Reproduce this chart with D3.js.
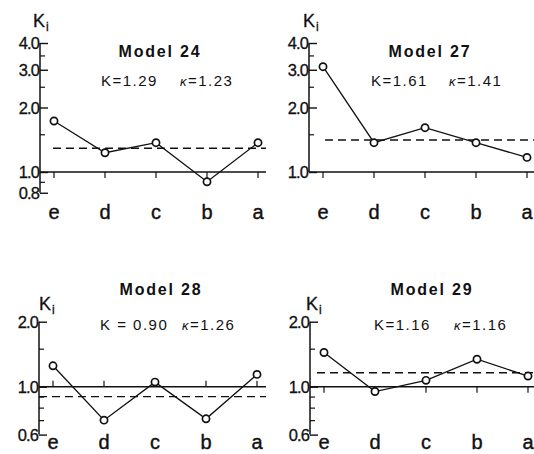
<!DOCTYPE html>
<html>
<head>
<meta charset="utf-8">
<script src="https://cdn.jsdelivr.net/npm/d3@7"></script>
<style>
  html, body { margin: 0; padding: 0; background: #fff; }
  svg { display: block; }
  text { font-family: "Liberation Sans", Arial, Helvetica, sans-serif; fill: #111; }
</style>
</head>
<body>
<svg id="chart" width="534" height="454"></svg>
<script>
// Station categories along the horizontal axis
const categories = ["e", "d", "c", "b", "a"];

// Model titles
const modelNames = ["Model 24", "Model 27", "Model 28", "Model 29"];

// K_i values per category for each model
const ki24 = [1.73, 1.23, 1.37, 0.90, 1.37];
const ki27 = [3.10, 1.37, 1.61, 1.37, 1.17];
const ki28 = [1.25, 0.70, 1.05, 0.71, 1.14];
const ki29 = [1.44, 0.95, 1.07, 1.34, 1.12];

// Summary values shown under each title
const bigK   = ["1.29", "1.61", "0.90", "1.16"];
const kappa  = ["1.23", "1.41", "1.26", "1.16"];
// Level of the dashed reference line
const dashLevel = [1.29, 1.41, 0.90, 1.16];

// Tick values / labels for each y axis
const majorTicks24 = [0.8, 1.0, 2.0, 3.0, 4.0];
const minorTicks24 = [0.9, 1.5, 2.5, 3.5];
const majorTicks27 = [1.0, 2.0, 3.0, 4.0];
const minorTicks27 = [1.5, 2.5, 3.5];
const majorTicksLow = [0.6, 1.0, 2.0];
const minorTicksLow = [0.7, 0.8, 0.9, 1.5];

const svg = d3.select("#chart");

// Panel geometry (layout only)
const panels = [
  { name: modelNames[0], values: ki24, K: bigK[0], kap: kappa[0], dash: dashLevel[0],
    major: majorTicks24, minor: minorTicks24, domain: [0.8, 4.0],
    axisX: 40, y1: 172, y4: 43, lineRight: 266, dashLeft: 53, catTickDir: 1,
    titleX: 160, titleY: 57, kX: 101, kapX: 180, kY: 86, kiX: 33, kiY: 27, labelY: 219, kSep: "=" },
  { name: modelNames[1], values: ki27, K: bigK[1], kap: kappa[1], dash: dashLevel[1],
    major: majorTicks27, minor: minorTicks27, domain: [1.0, 4.0],
    axisX: 309, y1: 172, y4: 43, lineRight: 534, dashLeft: 325, catTickDir: 1,
    titleX: 430, titleY: 57, kX: 371, kapX: 449, kY: 86, kiX: 303, kiY: 27, labelY: 219, kSep: "=" },
  { name: modelNames[2], values: ki28, K: bigK[2], kap: kappa[2], dash: dashLevel[2],
    major: majorTicksLow, minor: minorTicksLow, domain: [0.6, 2.0],
    axisX: 39, y1: 386.7, y2: 321.7, lineRight: 266, dashLeft: 39, catTickDir: -1,
    titleX: 161, titleY: 295, kX: 100, kapX: 182, kY: 330, kiX: 39, kiY: 310, labelY: 449, kSep: " = " },
  { name: modelNames[3], values: ki29, K: bigK[3], kap: kappa[3], dash: dashLevel[3],
    major: majorTicksLow, minor: minorTicksLow, domain: [0.6, 2.0],
    axisX: 310, y1: 386.7, y2: 321.7, lineRight: 534, dashLeft: 317, catTickDir: 1,
    titleX: 432, titleY: 295, kX: 374, kapX: 454, kY: 330, kiX: 306, kiY: 310, labelY: 449, kSep: "=" }
];

const stroke = "#111";

panels.forEach(p => {
  const g = svg.append("g");

  // Log scale for K_i
  let y;
  if (p.y4 !== undefined) {
    y = d3.scaleLog().domain([1, 4]).range([p.y1, p.y4]);
  } else {
    y = d3.scaleLog().domain([1, 2]).range([p.y1, p.y2]);
  }

  const x = d3.scalePoint().domain(categories)
    .range([p.axisX + 14, p.axisX + 14 + 51 * 4]);

  // Vertical axis with inward ticks
  const yAxis = d3.axisRight(y)
    .tickValues(p.major)
    .tickSize(8)
    .tickFormat(() => "");
  const ya = g.append("g").attr("transform", `translate(${p.axisX},0)`).call(yAxis);
  ya.select(".domain").remove();
  ya.selectAll("line").attr("stroke", stroke).attr("stroke-width", 1.4);

  const yMinor = d3.axisRight(y).tickValues(p.minor).tickSize(5).tickFormat(() => "");
  const ym = g.append("g").attr("transform", `translate(${p.axisX},0)`).call(yMinor);
  ym.select(".domain").remove();
  ym.selectAll("line").attr("stroke", stroke).attr("stroke-width", 1.2);

  g.append("line")
    .attr("x1", p.axisX).attr("x2", p.axisX)
    .attr("y1", y(p.domain[0])).attr("y2", y(p.domain[1]))
    .attr("stroke", stroke).attr("stroke-width", 1.5);

  // Tick labels
  g.selectAll("text.tl").data(p.major).enter().append("text")
    .attr("class", "tl")
    .attr("x", p.axisX - 1)
    .attr("y", d => y(d) + 6)
    .attr("text-anchor", "end")
    .attr("font-size", 16.5)
    .attr("letter-spacing", -0.9)
    .attr("stroke", "#111").attr("stroke-width", 0.3)
    .text(d => d.toFixed(1));

  // Reference line at K_i = 1
  g.append("line")
    .attr("x1", p.axisX).attr("x2", p.lineRight)
    .attr("y1", y(1)).attr("y2", y(1))
    .attr("stroke", stroke).attr("stroke-width", 1.4);

  // Category ticks on the reference line
  g.selectAll("line.ct").data(categories).enter().append("line")
    .attr("class", "ct")
    .attr("x1", d => x(d)).attr("x2", d => x(d))
    .attr("y1", y(1)).attr("y2", y(1) + 6 * p.catTickDir)
    .attr("stroke", stroke).attr("stroke-width", 1.2);

  // Dashed mean level
  g.append("line")
    .attr("x1", p.dashLeft).attr("x2", p.lineRight)
    .attr("y1", y(p.dash)).attr("y2", y(p.dash))
    .attr("stroke", stroke).attr("stroke-width", 1.4)
    .attr("stroke-dasharray", "8,5");

  // Data line and markers
  const pts = categories.map((c, i) => [x(c), y(p.values[i])]);
  g.append("path")
    .attr("d", d3.line()(pts))
    .attr("fill", "none").attr("stroke", stroke).attr("stroke-width", 1.3);
  g.selectAll("circle").data(pts).enter().append("circle")
    .attr("cx", d => d[0]).attr("cy", d => d[1]).attr("r", 3.6)
    .attr("fill", "#fff").attr("stroke", stroke).attr("stroke-width", 1.7);

  // Category labels
  g.selectAll("text.cl").data(categories).enter().append("text")
    .attr("class", "cl")
    .attr("x", d => x(d)).attr("y", p.labelY)
    .attr("text-anchor", "middle")
    .attr("font-size", 20)
    .attr("stroke", "#111").attr("stroke-width", 0.4)
    .text(d => d);

  // Axis title K_i
  const ki = g.append("text").attr("x", p.kiX).attr("y", p.kiY).attr("font-size", 18)
    .attr("stroke", "#111").attr("stroke-width", 0.3);
  ki.append("tspan").text("K");
  ki.append("tspan").attr("font-size", 12).attr("dx", 1).attr("dy", 4).text("i");

  // Model title
  g.append("text")
    .attr("x", p.titleX).attr("y", p.titleY)
    .attr("text-anchor", "middle")
    .attr("font-size", 16).attr("font-weight", "bold")
    .attr("letter-spacing", 1.8)
    .text(p.name);

  // Summary values
  g.append("text")
    .attr("x", p.kX).attr("y", p.kY)
    .attr("font-size", 15).attr("letter-spacing", 1.5)
    .text("K" + p.kSep + p.K);
  const kt = g.append("text")
    .attr("x", p.kapX).attr("y", p.kY)
    .attr("font-size", 15).attr("letter-spacing", 1.5);
  kt.append("tspan").attr("font-style", "italic").attr("font-size", 13).text("κ");
  kt.append("tspan").text("=" + p.kap);
});
</script>
</body>
</html>
